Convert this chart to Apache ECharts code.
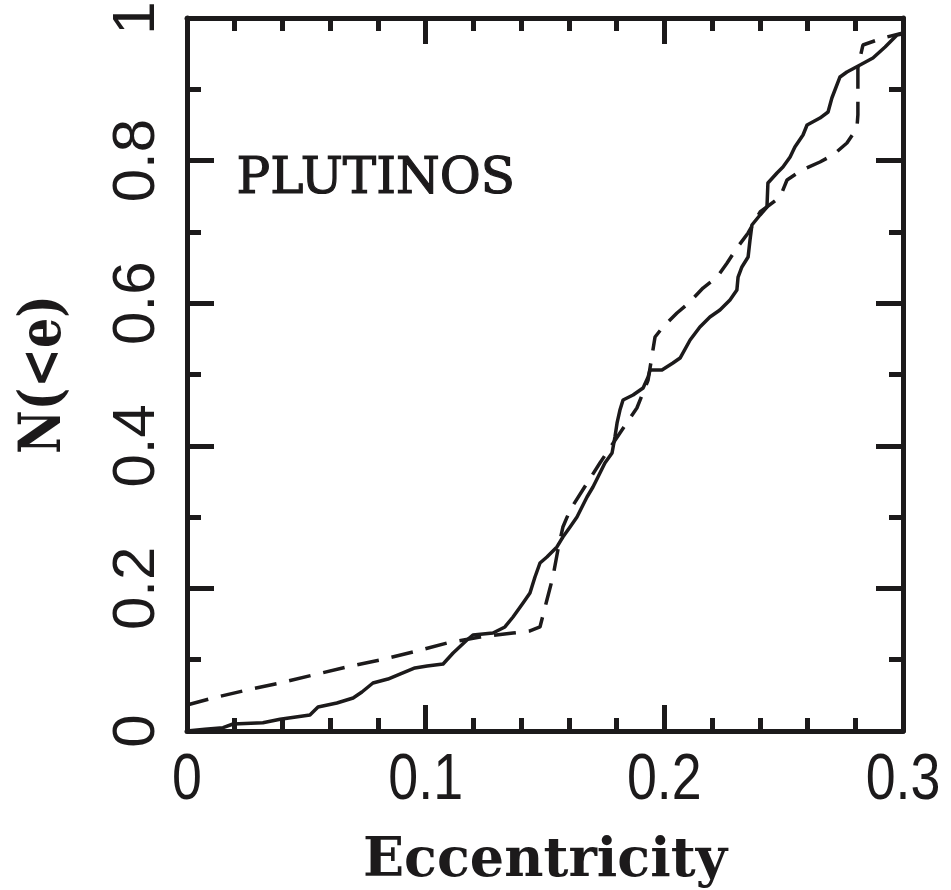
<!DOCTYPE html>
<html>
<head>
<meta charset="utf-8">
<script src="https://cdn.jsdelivr.net/npm/echarts@6/dist/echarts.min.js"></script>
<style>
  html, body { margin: 0; padding: 0; background: #fff; }
  #chart { width: 951px; height: 890px; }
</style>
</head>
<body>
<div id="chart"></div>
<script>
// Cumulative eccentricity distribution of the Plutinos (observed, solid)
const obsE = [0, 0.0075, 0.0151, 0.0193, 0.0318, 0.0390, 0.0515, 0.0549, 0.0628, 0.0696,
  0.0733, 0.0779, 0.0842, 0.0892, 0.0955, 0.1006, 0.1073, 0.1115, 0.1173, 0.1198,
  0.1282, 0.1332, 0.1366, 0.1408, 0.1437, 0.1458, 0.1479, 0.1508, 0.1550, 0.1575,
  0.1605, 0.1634, 0.1655, 0.1676, 0.1701, 0.1722, 0.1751, 0.1781, 0.1793, 0.1802,
  0.1814, 0.1827, 0.1869, 0.1911, 0.1932, 0.1940, 0.1990, 0.2036, 0.2066, 0.2108,
  0.2149, 0.2191, 0.2233, 0.2275, 0.2304, 0.2309, 0.2325, 0.2351, 0.2359, 0.2367,
  0.2401, 0.2430, 0.2434, 0.2472, 0.2497, 0.2527, 0.2547, 0.2581, 0.2598, 0.2652,
  0.2686, 0.2702, 0.2736, 0.2765, 0.2820, 0.2874, 0.2925, 0.2954, 0.2975, 0.2996];
const obsN = [0, 0.0024, 0.0046, 0.0098, 0.0116, 0.0164, 0.0224, 0.0337, 0.0393, 0.0463,
  0.0547, 0.0673, 0.0729, 0.0799, 0.0884, 0.0912, 0.0940, 0.1094, 0.1276, 0.1346,
  0.1374, 0.1459, 0.1599, 0.1795, 0.1935, 0.2160, 0.2356, 0.2440, 0.2581, 0.2721,
  0.2861, 0.3001, 0.3142, 0.3282, 0.3422, 0.3562, 0.3759, 0.3899, 0.4123, 0.4320,
  0.4502, 0.4642, 0.4712, 0.4811, 0.4965, 0.5063, 0.5063, 0.5161, 0.5231, 0.5484,
  0.5666, 0.5806, 0.5905, 0.6045, 0.6185, 0.6367, 0.6508, 0.6648, 0.6886, 0.7097,
  0.7237, 0.7349, 0.7686, 0.7826, 0.7910, 0.8050, 0.8191, 0.8359, 0.8499, 0.8597,
  0.8682, 0.8878, 0.9173, 0.9243, 0.9341, 0.9439, 0.9593, 0.9691, 0.9762, 0.9776];

// Model distribution (dashed)
const modE = [0, 0.0109, 0.0251, 0.0390, 0.0528, 0.0670, 0.0809, 0.0947, 0.1089, 0.1228,
  0.1366, 0.1437, 0.1479, 0.1508, 0.1533, 0.1554, 0.1575, 0.1605, 0.1730, 0.1814,
  0.1885, 0.1932, 0.1961, 0.1994, 0.2053, 0.2107, 0.2162, 0.2221, 0.2263, 0.2304,
  0.2351, 0.2401, 0.2485, 0.2514, 0.2577, 0.2652, 0.2707, 0.2765, 0.2807, 0.2811,
  0.2811, 0.2832, 0.2916, 0.3000];
const modN = [0.0365, 0.0463, 0.0575, 0.0673, 0.0785, 0.0898, 0.0996, 0.1108, 0.1234, 0.1318,
  0.1374, 0.1403, 0.1459, 0.1837, 0.2160, 0.2539, 0.2861, 0.3100, 0.3759, 0.4180,
  0.4530, 0.4923, 0.5526, 0.5666, 0.5863, 0.6017, 0.6213, 0.6367, 0.6564, 0.6774,
  0.6985, 0.7279, 0.7489, 0.7728, 0.7868, 0.7980, 0.8079, 0.8247, 0.8457, 0.8640,
  0.9299, 0.9621, 0.9720, 0.9790];

// Tick labels
const xTickValues = [0, 0.1, 0.2, 0.3];
const xTickLabels = ['0', '0.1', '0.2', '0.3'];

const xTitle = 'Eccentricity';
const yTitle = 'N(<e)';
const panelLabel = 'PLUTINOS';

const INK = '#1c1a1b';
const zip = (a, b) => a.map((v, i) => [v, b[i]]);

const chart = echarts.init(document.getElementById('chart'), null, { renderer: 'canvas' });

const xCommon = {
  type: 'value', min: 0, max: 0.3, interval: 0.1,
  axisLine: { show: true, onZero: false, lineStyle: { color: INK, width: 5 } },
  axisTick: { show: true, inside: true, length: 26, lineStyle: { color: INK, width: 5 } },
  minorTick: { show: true, splitNumber: 5, length: 13, lineStyle: { color: INK, width: 5 } },
  axisLabel: { show: false },
  splitLine: { show: false },
  minorSplitLine: { show: false }
};
const yCommon = {
  type: 'value', min: 0, max: 1, interval: 0.2,
  axisLine: { show: true, onZero: false, lineStyle: { color: INK, width: 5 } },
  axisTick: { show: true, inside: true, length: 27, lineStyle: { color: INK, width: 5 } },
  minorTick: { show: true, splitNumber: 2, length: 14, lineStyle: { color: INK, width: 5 } },
  splitLine: { show: false },
  minorSplitLine: { show: false }
};

chart.setOption({
  animation: false,
  backgroundColor: '#fff',
  grid: { left: 187, right: 48, top: 18, bottom: 159, containLabel: false, outerBoundsMode: 'none' },
  xAxis: [
    Object.assign({}, xCommon, {
      position: 'bottom',
      name: xTitle, nameLocation: 'middle', nameGap: 104,
      nameTextStyle: { fontFamily: 'DejaVu Serif', fontWeight: 'bold', fontSize: 54, color: INK }
    }),
    Object.assign({}, xCommon, { position: 'top' })
  ],
  yAxis: [
    Object.assign({}, yCommon, {
      position: 'left',
      axisLabel: { show: true, rotate: 90, margin: 20, fontFamily: 'Liberation Sans', fontSize: 60, color: INK }
    }),
    Object.assign({}, yCommon, { position: 'right', axisLabel: { show: false } })
  ],
  series: [
    {
      type: 'line', name: 'observed', data: zip(obsE, obsN),
      showSymbol: false, smooth: false,
      lineStyle: { color: INK, width: 3.5, join: 'round' }
    },
    {
      type: 'line', name: 'model', data: zip(modE, modN),
      showSymbol: false, smooth: false,
      lineStyle: { color: INK, width: 3.5, type: [22, 13] }
    }
  ]
});

// Slightly condensed x tick labels and the rotated y title, placed through the axis scales
const xAxisY = chart.convertToPixel({ yAxisIndex: 0 }, 0);
const yMid = chart.convertToPixel({ yAxisIndex: 0 }, 0.5);
const graphics = xTickValues.map((v, i) => ({
  type: 'text', silent: true,
  x: chart.convertToPixel({ xAxisIndex: 0 }, v), y: xAxisY + 18,
  scaleX: 0.84,
  style: { text: xTickLabels[i], font: '64px "Liberation Sans"', fill: INK, align: 'center', verticalAlign: 'top' }
}));
graphics.push({
  type: 'text', silent: true,
  x: 45, y: yMid, rotation: Math.PI / 2, scaleX: 0.82,
  style: { text: yTitle, font: 'bold 58px "DejaVu Serif"', fill: INK, align: 'center', verticalAlign: 'middle' }
});
graphics.push({
  type: 'text', silent: true, left: 236, top: 154,
  style: { text: panelLabel, font: '50px "DejaVu Serif"', fill: INK, stroke: INK, lineWidth: 1.2 }
});
chart.setOption({ graphic: graphics });
</script>
</body>
</html>
